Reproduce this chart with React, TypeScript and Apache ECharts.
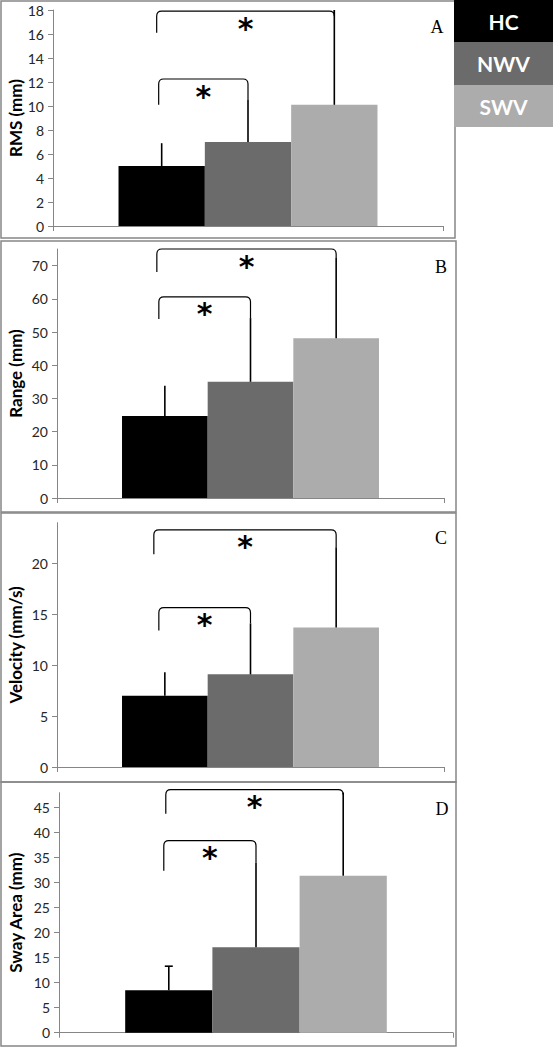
import React, { useEffect, useRef } from 'react';
import * as echarts from 'echarts';

// ---------- data ----------
const groups = ['HC', 'NWV', 'SWV'];

// Panel A: RMS
const rmsMean = [5.0, 7.0, 10.1];
const rmsErrTop = [6.9, 10.5, 18.0];
// [bracket top, left leg bottom, right leg bottom, right group index]
const rmsBrackets = [
  [12.25, 10.1, 10.5, 1],
  [17.9, 16.1, 18.0, 2],
];
const rmsTicks = [0, 2, 4, 6, 8, 10, 12, 14, 16, 18];

// Panel B: Range
const rangeMean = [24.7, 35.0, 48.1];
const rangeErrTop = [33.8, 54.2, 72.3];
const rangeBrackets = [
  [60.6, 53.9, 54.2, 1],
  [75.0, 68.1, 72.3, 2],
];
const rangeTicks = [0, 10, 20, 30, 40, 50, 60, 70];

// Panel C: Velocity
const velMean = [7.0, 9.1, 13.7];
const velErrTop = [9.3, 14.1, 21.6];
const velBrackets = [
  [15.65, 13.4, 14.1, 1],
  [23.3, 20.9, 21.6, 2],
];
const velTicks = [0, 5, 10, 15, 20];

// Panel D: Sway Area
const swayMean = [8.5, 17.1, 31.4];
const swayErrTop = [13.3, 34.0, 48.0];
const swayBrackets = [
  [38.4, 32.4, 34.0, 1],
  [48.6, 43.8, 48.0, 2],
];
const swayTicks = [0, 5, 10, 15, 20, 25, 30, 35, 40, 45];

// ---------- styling / layout ----------
const COLORS = ['#000000', '#6b6b6b', '#acacac'];
const CAT_GAP = 0.336;
const AXIS_COLOR = '#868686';
const FONT = 'Lato, "Open Sans", sans-serif';

const panels = [
  {
    title: 'RMS (mm)', letter: 'A', mean: rmsMean, err: rmsErrTop, brackets: rmsBrackets,
    ticks: rmsTicks, max: 18, interval: 2,
    grid: { left: 53, top: 10, width: 390, height: 216 },
    box: { x: 1, y: 1, w: 454, h: 237 }, letterPos: [437, 27], nameGap: 29, caps: [0, 0, 0],
    legOff: [3, 5],
  },
  {
    title: 'Range (mm)', letter: 'B', mean: rangeMean, err: rangeErrTop, brackets: rangeBrackets,
    ticks: rangeTicks, max: 75, interval: 5,
    grid: { left: 57, top: 249, width: 387, height: 249 },
    box: { x: 1, y: 241, w: 455, h: 271 }, letterPos: [441, 267], nameGap: 33, caps: [0, 0, 0],
    legOff: [6, 8],
  },
  {
    title: 'Velocity (mm/s)', letter: 'C', mean: velMean, err: velErrTop, brackets: velBrackets,
    ticks: velTicks, max: 24, interval: 1,
    grid: { left: 57, top: 522.7, width: 387, height: 244.3 },
    box: { x: 1, y: 513, w: 455, h: 269 }, letterPos: [441, 538], nameGap: 33, caps: [0, 0, 0],
    legOff: [6, 11],
  },
  {
    title: 'Sway Area (mm)', letter: 'D', mean: swayMean, err: swayErrTop, brackets: swayBrackets,
    ticks: swayTicks, max: 48, interval: 1,
    grid: { left: 59, top: 792.7, width: 394, height: 240 },
    box: { x: 1, y: 782, w: 455, h: 264 }, letterPos: [442, 809], nameGap: 35, caps: [8, 0, 0],
    legOff: [5, 3],
  },
];

function barWidthOf(api: any) {
  const band = api.size([1, 0])[0];
  return (band * (1 - CAT_GAP)) / 3;
}

function buildOption() {
  const grid: any[] = [];
  const xAxis: any[] = [];
  const yAxis: any[] = [];
  const series: any[] = [];
  const graphic: any[] = [];

  panels.forEach((p, pi) => {
    grid.push({ ...p.grid, containLabel: false, outerBoundsMode: 'none' });
    xAxis.push({
      type: 'category',
      gridIndex: pi,
      data: [''],
      boundaryGap: true,
      axisLine: { show: true, lineStyle: { color: AXIS_COLOR, width: 1 } },
      axisTick: { show: true, length: 5, lineStyle: { color: AXIS_COLOR } },
      axisLabel: { show: false },
      splitLine: { show: false },
    });
    yAxis.push({
      type: 'value',
      gridIndex: pi,
      min: 0,
      max: p.max,
      interval: p.interval,
      name: p.title,
      nameLocation: 'middle',
      nameGap: p.nameGap,
      nameMoveOverlap: false,
      nameTextStyle: { fontFamily: FONT, fontWeight: 'bold', fontSize: 17, color: '#000' },
      axisLine: { show: true, lineStyle: { color: AXIS_COLOR, width: 1 } },
      axisTick: { show: true, length: 5, customValues: p.ticks, lineStyle: { color: AXIS_COLOR } },
      axisLabel: { show: true, customValues: p.ticks, color: '#262626', fontFamily: FONT, fontSize: 14, margin: 9 },
      splitLine: { show: false },
    });

    groups.forEach((g, gi) => {
      series.push({
        type: 'bar',
        name: g,
        xAxisIndex: pi,
        yAxisIndex: pi,
        data: [p.mean[gi]],
        barGap: '0%',
        barCategoryGap: `${CAT_GAP * 100}%`,
        itemStyle: { color: COLORS[gi] },
        z: 2,
      });
    });

    // error bars (upper)
    series.push({
      type: 'custom',
      xAxisIndex: pi,
      yAxisIndex: pi,
      z: 3,
      data: groups.map((g, gi) => [0, p.mean[gi], p.err[gi], gi]),
      renderItem: (params: any, api: any) => {
        const bw = barWidthOf(api);
        const idx = api.value(3);
        const c0 = api.coord([0, api.value(1)]);
        const c1 = api.coord([0, api.value(2)]);
        const x = c0[0] + (idx - 1) * bw;
        const cap = p.caps[idx];
        const children: any[] = [
          { type: 'line', shape: { x1: x, y1: c0[1], x2: x, y2: c1[1] }, style: { stroke: '#000', lineWidth: 1.6 } },
        ];
        if (cap > 0) {
          children.push({ type: 'line', shape: { x1: x - cap / 2, y1: c1[1], x2: x + cap / 2, y2: c1[1] }, style: { stroke: '#000', lineWidth: 1.6 } });
        }
        return { type: 'group', children };
      },
    });

    // significance brackets
    series.push({
      type: 'custom',
      xAxisIndex: pi,
      yAxisIndex: pi,
      z: 4,
      clip: false,
      data: p.brackets.map((b) => [0, b[0], b[1], b[2], b[3]]),
      renderItem: (params: any, api: any) => {
        const bw = barWidthOf(api);
        const center = api.coord([0, 0])[0];
        const top = api.coord([0, api.value(1)])[1];
        const lb = api.coord([0, api.value(2)])[1];
        const rb = api.coord([0, api.value(3)])[1];
        const ri = api.value(4);
        const lx = center - bw - p.legOff[params.dataIndex];
        const rx = center + (ri - 1) * bw;
        const r = 5;
        const d = `M${lx},${lb} L${lx},${top + r} Q${lx},${top} ${lx + r},${top} L${rx - r},${top} Q${rx},${top} ${rx},${top + r} L${rx},${rb}`;
        return {
          type: 'group',
          children: [
            { type: 'path', shape: { pathData: d }, style: { stroke: '#000', lineWidth: 1.2, fill: 'none' } },
            {
              type: 'text',
              x: (lx + rx) / 2,
              y: top + 17,
              style: {
                text: '*', fill: '#000', fontFamily: '"DejaVu Sans", sans-serif', fontWeight: 'bold', fontSize: 30,
                align: 'center', verticalAlign: 'middle',
              },
            },
          ],
        };
      },
    });

    graphic.push({
      type: 'rect',
      shape: { x: p.box.x, y: p.box.y, width: p.box.w, height: p.box.h },
      style: { fill: 'none', stroke: '#878787', lineWidth: 1.5 },
      z: 1,
    });
    graphic.push({
      type: 'text',
      x: p.letterPos[0],
      y: p.letterPos[1],
      style: {
        text: p.letter, fill: '#000', fontFamily: '"Liberation Serif", "DejaVu Serif", serif', fontSize: 18,
        align: 'center', verticalAlign: 'middle',
      },
      z: 5,
    });
  });

  // legend blocks
  const legendTops = [0, 42, 85, 127];
  groups.forEach((g, gi) => {
    const y0 = legendTops[gi];
    const h = legendTops[gi + 1] - y0;
    graphic.push({
      type: 'rect',
      shape: { x: 454, y: y0, width: 99, height: h },
      style: { fill: COLORS[gi] },
      z: 10,
    });
    graphic.push({
      type: 'text',
      x: 503.5,
      y: y0 + h / 2,
      style: {
        text: g, fill: '#fff', fontFamily: FONT, fontWeight: 'bold', fontSize: 21,
        align: 'center', verticalAlign: 'middle',
      },
      z: 11,
    });
  });

  return {
    animation: false,
    backgroundColor: '#fff',
    grid,
    xAxis,
    yAxis,
    series,
    graphic,
  };
}

export default function App() {
  const ref = useRef<HTMLDivElement>(null);
  useEffect(() => {
    if (!ref.current) return;
    const chart = echarts.init(ref.current, undefined, { renderer: 'svg' });
    chart.setOption(buildOption() as any);
    return () => chart.dispose();
  }, []);
  return (
    <div
      ref={ref}
      style={{ position: 'absolute', left: 0, top: 0, width: 553, height: 1048, background: '#fff' }}
    />
  );
}
